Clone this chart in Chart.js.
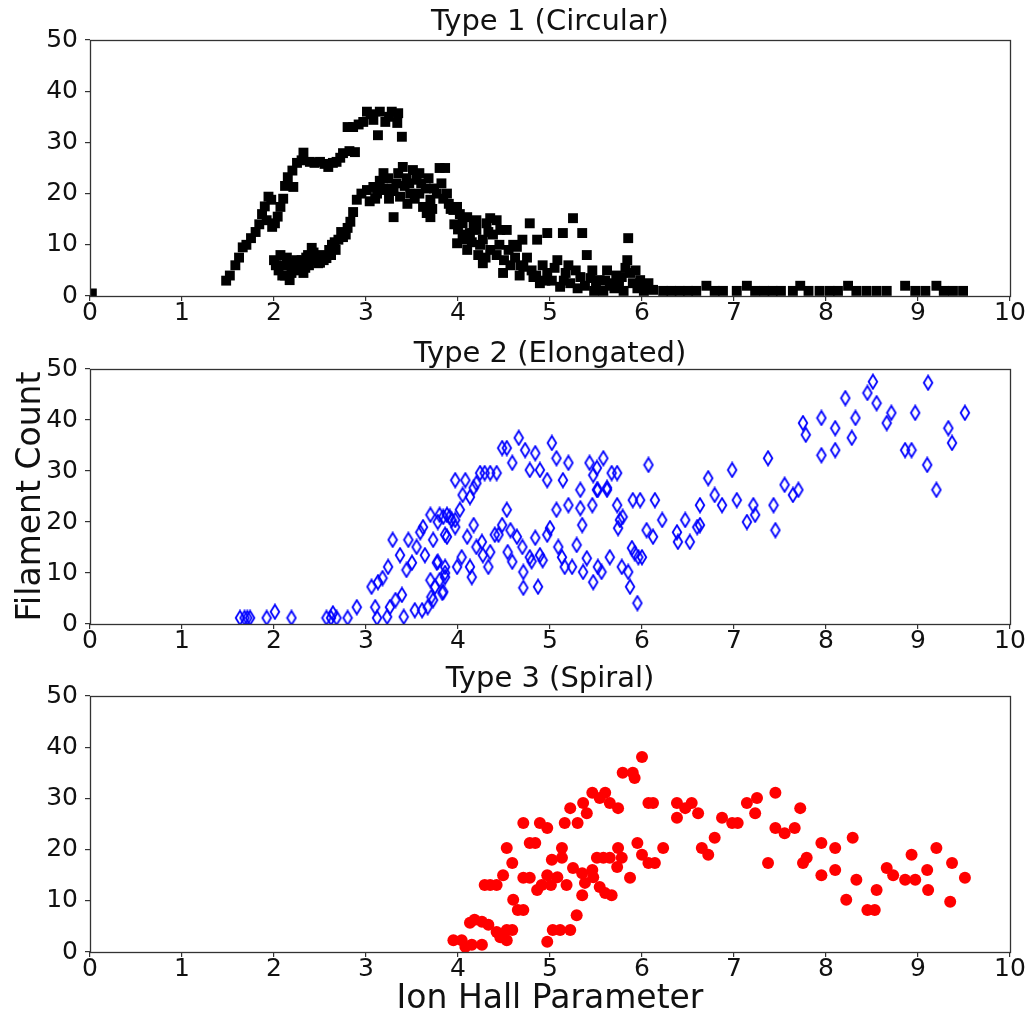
<!DOCTYPE html>
<html><head><meta charset="utf-8">
<script src="https://cdn.jsdelivr.net/npm/chart.js@4.4.0/dist/chart.umd.min.js"></script>
<style>
html,body{margin:0;padding:0;background:#fff;}
#wrap{position:relative;width:1031px;height:1019px;overflow:hidden;background:#fff;}
canvas{position:absolute;left:0;}
</style></head><body><div id="wrap">
<canvas id="c1" width="1031" height="335" style="top:0px;width:1031px;height:335px"></canvas>
<canvas id="c2" width="1031" height="330" style="top:335px;width:1031px;height:330px"></canvas>
<canvas id="c3" width="1031" height="359" style="top:660px;width:1031px;height:359px"></canvas>
</div>
<script>
const xTickValues = [0,1,2,3,4,5,6,7,8,9,10];
const yTickValues = [0,10,20,30,40,50];
const panelTitles = ['Type 1 (Circular)', 'Type 2 (Elongated)', 'Type 3 (Spiral)'];
const yAxisLabel = 'Filament Count';
const xAxisLabel = 'Ion Hall Parameter';

const circularPoints = [
[0.02,0.5],
[1.48,3],[1.52,4],[1.58,6],[1.62,7.5],[1.66,9.5],[1.7,10],[1.75,11.3],[1.8,12.5],[1.84,14],[1.87,16],[1.9,17.5],[1.94,19.4],[1.97,18.8],[1.92,14.8],[1.98,13.5],[2.01,14.2],[2.04,15.5],[2.07,17.4],[2.1,19],
[2.12,21.5],[2.15,23.2],[2.21,21.3],[2.2,24.5],[2.25,26],[2.32,28],[2.3,26.5],[2.39,26.2],[2.44,26],[2.5,26.2],[2.55,25.8],[2.59,25.2],[2.64,26],[2.68,26.2],[2.72,27],[2.75,27.9],[2.82,28.3],[2.88,28.1],
[2.8,33],[2.86,33],[2.92,33.5],[2.97,34],[3.01,36],[3.05,35.5],[3.08,34.4],[3.13,31.4],[3.15,36],[3.21,34],[3.25,35],[3.28,36],[3.35,35.7],[3.34,33.8],[3.39,31.1],
[2.0,7],[2.05,5],[2.07,8],[2.1,6],[2.12,4],[2.15,6.4],[2.17,3.1],[2.2,5.5],[2.24,7],[2.28,6.4],[2.32,4.5],[2.35,7.5],[2.38,6],[2.41,9.4],[2.45,7],[2.48,6.4],[2.52,8],[2.57,7.4],[2.6,9],[2.63,10],[2.67,9],[2.7,11],[2.75,11.5],[2.8,13.3],[2.83,14.5],[2.86,16.4],[2.9,18.8],[2.95,20],[3.01,20.7],[3.04,18.5],[3.08,21.3],[3.12,20],[3.15,22.5],[3.19,24],[3.22,20.7],[3.25,19],[3.3,15.4],[3.28,21],[3.33,22],[3.37,19.4],[3.4,25.2],[3.42,21.5],[3.45,18],[3.48,20],[3.51,24.6],[3.55,22.7],[3.58,24],[3.58,20],[3.62,17.4],[3.66,16.2],[3.7,15.4],[3.7,18.8],[3.74,21],[3.8,25],[3.86,25],[3.84,19],[3.88,20],[3.92,17],[3.95,16.8],[3.99,17.4],[4.05,14.2],[4.02,16],[3.99,10.3],[4.05,12],[4.1,15.4],[4.1,9],[4.13,12.3],[4.17,14],[4.2,14.8],[4.2,12.9],[4.24,10],[4.27,11],[4.27,6.4],[4.31,14.2],[4.35,15.2],[4.35,9],[4.38,12],[4.42,14.8],[4.42,8],[4.46,12.9],[4.49,4.5],[4.5,7],[4.53,12.9],[4.57,6],[4.6,10],[4.64,9.6],[4.67,4],[4.7,11],[4.71,5.7],[4.75,7.5],[4.78,14.2],[4.82,3.7],[4.86,11],[4.89,2.5],[4.92,6],[4.97,12.3],[4.97,4.5],[5.02,3],[5.08,7],[5.11,1.8],[5.14,12.3],[5.17,4.5],[5.22,2.5],[5.25,15.2],[5.28,5],[5.33,3.7],[5.35,12.3],[5.38,2],[5.4,8],[5.46,5],[5.5,2],[5.54,3.1],[5.58,1],[5.62,5],[5.65,2],[5.68,2.5],[5.72,4],[5.78,3.7],[5.8,1],[5.84,7],[5.85,11.3],[5.87,4.5],[5.9,2.5],[5.93,5],[5.98,3.1],[6.02,1],[6.07,2.5],[6.12,1.2],
[2.02,6],[2.09,4],[2.14,7.5],[2.19,4.5],[2.22,6],[2.26,5],[2.3,7],[2.34,5.5],[2.37,8],[2.43,8.5],[2.47,7.5],[2.5,6.5],[2.54,7],[2.62,8],[2.66,10.5],[2.73,12.5],[2.78,12],
[3.1,19],[3.18,21],[3.24,23],[3.3,20.5],[3.35,24],[3.44,23],[3.47,22],[3.53,19],[3.6,22],[3.65,21],[3.68,23],[3.72,17],[3.77,20],[3.82,22],[3.9,18],[3.96,14],[4.0,13],[4.07,11],[4.15,10.5],[4.22,8],[4.3,7.5],[4.33,12.5],[4.45,10],[4.55,9],[4.62,7.5],[4.68,6],[4.8,5],[4.85,4],[4.95,3],[5.05,5.5],[5.15,3],[5.2,6],[5.3,1.5],[5.44,3.5],[5.48,1],[5.6,3],[5.7,1.5],[5.75,2],[5.82,5.5],[5.95,1.5],[6.05,1.5],
[6.23,1],[6.32,1],[6.41,1],[6.5,1],[6.59,1],[6.7,2],[6.79,1],[6.88,1],[7.03,1],[7.14,2],[7.23,1],[7.33,1],[7.42,1],[7.51,1],[7.64,1],[7.72,2],[7.81,1],[7.93,1],[8.04,1],[8.13,1],[8.24,2],[8.33,1],[8.44,1],[8.55,1],[8.66,1],[8.86,2],[8.97,1],[9.08,1],[9.2,2],[9.28,1],[9.38,1],[9.49,1]
];

const elongatedPoints = [
[1.63,1.2],[1.68,1.2],[1.71,1.2],[1.74,1.2],[1.92,1.2],[2.01,2.4],[2.19,1.2],[2.57,1.2],[2.62,1.2],[2.64,2.1],[2.68,1.2],[2.8,1.2],[2.9,3.3],[3.1,3.3],[3.12,1.2],[3.06,7.3],[3.13,8.2],[3.18,9],[3.24,11.2],[3.29,16.5],[3.37,13.5],[3.23,1.4],[3.26,3.3],[3.32,4.7],[3.39,5.7],[3.41,1.4],[3.46,16.5],[3.44,10.6],[3.5,12],[3.55,15.1],[3.53,2.7],[3.61,2.7],[3.59,18],[3.62,19],[3.7,21.4],[3.64,13.5],[3.67,3.3],[3.71,5.3],[3.75,7.3],[3.8,8.6],[3.84,6.3],[3.73,16.5],[3.78,12.2],[3.8,21.4],[3.88,21.4],[3.86,17.5],[3.78,20],[3.86,10],[3.7,8.6],[3.73,4.7],[3.77,12],[3.83,6.1],[3.86,11.2],[3.86,9.2],[3.84,21],[3.91,21],[3.97,20.4],[3.97,19],[4.02,22.4],[3.97,28.2],[4.08,28.2],[4.05,25.3],[4.13,24.9],[4.17,26.7],[4.2,27.6],[4.24,29.6],[4.29,29.6],[4.35,29.6],[4.42,29.6],[4.48,34.5],[4.53,34.5],[4.59,31.6],[4.66,36.5],[4.73,34.1],[4.78,30.2],[4.84,33.5],[4.89,30.2],[4.97,28.2],[5.02,35.5],[5.07,32.5],[5.14,28.2],[5.2,31.6],[5.33,26.3],[5.43,31.6],[5.47,29.2],[5.51,30.6],[5.52,26.3],[5.58,32.5],[5.62,26.3],[5.67,29.6],[5.73,29.6],[6.07,31.2],
[3.88,17.1],[3.93,20.4],[3.99,11.2],[4.04,13.1],[4.1,17.1],[4.13,11.2],[4.15,9.2],[4.17,19.4],[4.2,15.1],[4.26,16.1],[4.27,13.5],[4.33,11.2],[4.35,14.1],[4.4,17.5],[4.44,17.5],[4.48,19.4],[4.53,22.4],[4.57,18.4],[4.54,14.1],[4.59,12.2],[4.64,17.1],[4.7,15.1],[4.71,10.2],[4.71,7.1],[4.78,13.1],[4.8,12.3],[4.84,16.9],[4.89,13.5],[4.92,12.5],[4.87,7.3],[4.97,17.5],[5.0,18.8],[5.07,22.4],[5.09,15.1],[5.13,13.1],[5.16,11.2],[5.2,23.3],[5.24,11.2],[5.29,15.5],[5.33,22.7],[5.35,19.4],[5.36,10.2],[5.4,12.9],[5.46,23.3],[5.47,8.2],[5.51,26.3],[5.52,11.2],[5.56,10.2],[5.62,26.7],[5.65,13.1],[5.73,23.3],[5.74,18.8],[5.76,20.4],[5.78,11.2],[5.79,21],[5.85,10.2],[5.87,7.3],[5.89,14.9],[5.92,13.9],[5.95,4.1],[5.96,13.1],[6.0,13.1],[5.9,24.3],[5.98,24.3],[6.05,18.4],[6.12,17.1],[6.14,24.3],[6.22,20.4],[6.38,18],[6.39,16.1],[6.47,20.4],[6.52,16.1],[6.6,19],[6.63,23.3],[6.63,19.4],[6.72,28.6],[6.79,25.3],[6.87,23.3],[6.98,30.2],[7.03,24.3],[7.14,20],[7.21,23.3],[7.23,21.4],[7.37,32.5],[7.43,23.3],[7.45,18.4],[7.55,27.3],[7.64,25.3],[7.7,26.3],[7.75,39.4],[7.78,37.1],[7.95,40.4],[7.95,33.1],[8.1,38.4],[8.1,34.1],[8.21,44.3],[8.28,36.5],[8.32,40.4],[8.45,45.3],[8.51,47.5],[8.55,43.3],[8.66,39.4],[8.71,41.4],[8.86,34.1],[8.93,34.1],[8.97,41.4],[9.1,31.2],[9.11,47.3],[9.2,26.3],[9.33,38.4],[9.37,35.5],[9.51,41.4]
];

const spiralPoints = [
[3.95,2.3],[4.04,2.3],[4.08,1],[4.15,1.4],[4.26,1.4],[4.13,5.7],[4.18,6.3],[4.26,5.9],[4.33,5.3],[4.42,3.9],[4.46,2.9],[4.53,2.3],[4.53,4.3],[4.59,4.3],[4.29,13.1],[4.35,13.1],[4.42,13.1],[4.49,15],[4.53,20.3],[4.59,17.4],[4.6,10.2],[4.65,8.2],[4.71,8.2],[4.71,25.2],[4.71,14.5],[4.78,14.5],[4.78,21.3],[4.84,21.3],[4.86,12.1],[4.89,25.2],[4.97,24.2],[4.91,13.1],[4.97,2],[4.97,15],[5.02,18],[5.01,13.1],[5.08,14.6],[5.03,4.3],[5.11,4.3],[5.13,18.4],[5.13,20.3],[5.16,25.2],[5.18,13.1],[5.22,4.3],[5.22,28.1],[5.25,16.4],[5.29,7.2],[5.3,25.2],[5.35,15.4],[5.35,11.1],[5.36,29.1],[5.4,27.1],[5.38,13.5],[5.46,31.1],[5.46,16],[5.47,14.6],[5.51,18.4],[5.54,30.1],[5.54,12.7],[5.6,31.1],[5.58,18.4],[5.6,11.5],[5.65,18.4],[5.65,29.1],[5.67,11.1],[5.73,16.6],[5.74,28.1],[5.74,20.3],[5.78,18.4],[5.79,35],[5.87,14.5],[5.9,35],[5.92,34],[5.95,21.3],[6.0,38.1],[6.0,19],[6.07,29.1],[6.12,29.1],[6.07,17.4],[6.14,17.4],[6.23,20.3],[6.38,29.1],[6.38,26.2],[6.47,28.1],[6.54,29.1],[6.61,27.1],[6.65,20.3],[6.72,19],[6.79,22.3],[6.87,26.2],[6.98,25.2],[7.04,25.2],[7.14,29.1],[7.23,27.1],[7.25,30.1],[7.37,17.4],[7.45,31.1],[7.45,24.2],[7.55,23.2],[7.66,24.2],[7.72,28.1],[7.75,17.4],[7.79,18.4],[7.95,21.3],[7.95,15],[8.1,20.3],[8.1,16],[8.29,22.3],[8.22,10.2],[8.33,14.1],[8.45,8.2],[8.53,8.2],[8.55,12.1],[8.66,16.4],[8.73,15],[8.86,14.1],[8.93,19],[8.97,14.1],[9.1,16],[9.11,12.1],[9.2,20.3],[9.35,9.8],[9.37,17.4],[9.51,14.5]
];

// thin diamond marker (matplotlib 'd')
function thinDiamond(){
  const c = document.createElement('canvas');
  c.width = 12; c.height = 17;
  const g = c.getContext('2d');
  g.strokeStyle = '#0000ff'; g.lineWidth = 1.8;
  g.beginPath();
  g.moveTo(6,1.5); g.lineTo(10.3,8.5); g.lineTo(6,15.5); g.lineTo(1.7,8.5); g.closePath();
  g.stroke();
  return c;
}

const framePlugin = {
  id:'frame',
  afterDraw(chart){
    const a = chart.chartArea, ctx = chart.ctx;
    ctx.save();
    ctx.strokeStyle = '#333'; ctx.lineWidth = 1.3;
    ctx.strokeRect(Math.round(a.left)+0.5, Math.round(a.top)+0.5, Math.round(a.right-a.left), Math.round(a.bottom-a.top));
    ctx.restore();
  }
};

const FONT = "'DejaVu Sans', sans-serif";

function makeChart(id, cfg){
  return new Chart(document.getElementById(id), {
    type:'scatter',
    data:{datasets:[{
      data: cfg.points.map(p => ({x:p[0], y:p[1]})),
      pointStyle: cfg.style,
      pointRadius: cfg.radius,
      pointHoverRadius: cfg.radius,
      backgroundColor: cfg.fill,
      borderColor: cfg.edge,
      borderWidth: 0,
      showLine:false
    }]},
    options:{
      responsive:false, animation:false, devicePixelRatio:1,
      events:[],
      layout:{autoPadding:false, padding:{left:0, right:21, top:0, bottom:0}},
      plugins:{
        legend:{display:false}, tooltip:{enabled:false},
        title:{display:true, fullSize:false, text:cfg.title, color:'#111',
          font:{family:FONT, size:29, lineHeight:1, weight:'normal'},
          padding:{top:cfg.tpt, bottom:cfg.tpb}}
      },
      scales:{
        x:{type:'linear', min:0, max:10,
          afterBuildTicks: s => { s.ticks = xTickValues.map(v => ({value:v})); },
          ticks:{autoSkip:false, maxRotation:0, color:'#111', padding:0,
            font:{family:FONT, size:25, lineHeight:1}},
          grid:{drawOnChartArea:false, drawTicks:true, tickLength:5, color:'#333', lineWidth:1.2},
          border:{display:false},
          title: cfg.xTitle ? {display:true, text:cfg.xTitle, color:'#111',
            font:{family:FONT, size:33, lineHeight:1}, padding:{top:0, bottom:3}} : {display:false},
          afterFit: s => { s.height = cfg.xh; }
        },
        y:{type:'linear', min:0, max:50,
          afterBuildTicks: s => { s.ticks = yTickValues.map(v => ({value:v})); },
          ticks:{autoSkip:false, color:'#111', padding:7,
            font:{family:FONT, size:25, lineHeight:1}},
          grid:{drawOnChartArea:false, drawTicks:true, tickLength:5, color:'#333', lineWidth:1.2},
          border:{display:false},
          title: cfg.yTitle ? {display:true, text:cfg.yTitle, color:'#111',
            font:{family:FONT, size:33, lineHeight:1}, padding:{top:15, bottom:0}} : {display:false},
          afterFit: s => { s.width = 90; }
        }
      }
    },
    plugins:[framePlugin]
  });
}

makeChart('c1', {points:circularPoints, style:'rect', radius:7, fill:'#000000', edge:'#000000',
  title:panelTitles[0], tpt:8, tpb:3, xh:39});
makeChart('c2', {points:elongatedPoints, style:thinDiamond(), radius:6, fill:'rgba(0,0,0,0)', edge:'#0000ff',
  title:panelTitles[1], tpt:5, tpb:0, xh:41, yTitle:yAxisLabel});
makeChart('c3', {points:spiralPoints, style:'circle', radius:6, fill:'#ff0000', edge:'#ff0000',
  title:panelTitles[2], tpt:5, tpb:2, xh:67, xTitle:xAxisLabel});
</script>
</body></html>
